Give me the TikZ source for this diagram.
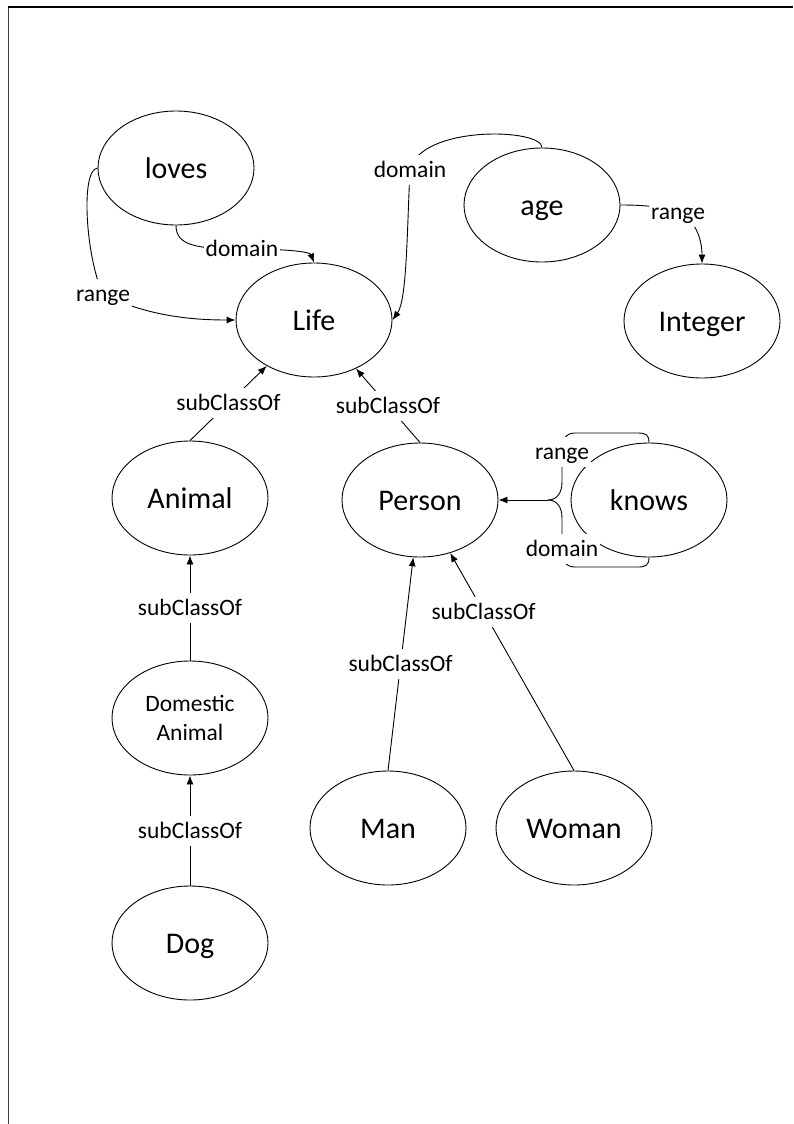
\documentclass[tikz,border=0pt]{standalone}
\usepackage{fontspec}
\setmainfont{Carlito}
\usetikzlibrary{shapes.geometric,arrows.meta}
\begin{document}
\begin{tikzpicture}[x=1pt,y=-1pt,
  ell/.style={ellipse,draw,line width=0.9pt,minimum width=156pt,minimum height=114pt,inner sep=0pt},
  cls/.style={ell,font=\fontsize{30}{36}\selectfont,text height=20pt,text depth=0pt},
  cls2/.style={ell,font=\fontsize{23.5}{28.5}\selectfont,align=center},
  lbl/.style={fill=white,inner xsep=2pt,inner ysep=7.5pt,text height=15pt,text depth=0pt,font=\fontsize{23.5}{28}\selectfont},
  link/.style={line width=0.9pt},
  arr/.style={link,-{Latex[length=9pt,width=7pt]}}]
\path[use as bounding box] (0,0) rectangle (793,1124);
% page frame
\draw[line width=1.8pt,black!75] (8.5,1124) -- (8.5,7);
\draw[line width=1.5pt] (7.6,7) -- (793,7);

% classes and properties
\node[cls] (loves)   at (176,168) {loves};
\node[cls] (life)    at (314,320) {Life};
\node[cls] (age)     at (542,205) {age};
\node[cls] (integer) at (702,321) {Integer};
\node[cls] (animal)  at (190,498) {Animal};
\node[cls] (person)  at (420,500) {Person};
\node[cls] (knows)   at (649,500) {knows};
\node[cls2] (domestic) at (190,718) {Domestic\\Animal};
\node[cls] (dog)     at (190,943) {Dog};
\node[cls] (man)     at (388,828) {Man};
\node[cls] (woman)   at (574,828) {Woman};

% loves: domain and range
\draw[arr] (loves.south) .. controls (176,245) and (195,249) .. (242,249)
  node[lbl] (lovesdom) {domain}
  .. controls (290,249) and (310,252) .. (life.north);
\draw[arr] (loves.west) .. controls (80,170) and (86,258) .. (103,294)
  node[lbl] (lovesrng) {range}
  .. controls (150,318) and (200,320) .. (life.west);

% age: domain and range
\draw[arr] (age.north) .. controls (542,128) and (420,125) .. (410,170)
  node[lbl] (agedom) {domain}
  .. controls (407,230) and (407,300) .. (life.east);
\draw[arr] (age.east) .. controls (640,205) and (660,206) .. (678,212)
  node[lbl] (agerng) {range}
  .. controls (696,220) and (702,240) .. (integer.north);

% knows: range and domain joined into one arrow
\coordinate (kj) at (548,500);
\draw[link] (knows.north) .. controls (649,435) and (646,433) .. (638,433)
  -- (575,433) .. controls (565,433) and (562,440) .. (562,452)
  node[lbl] (knowsrng) {range}
  -- (562,482) .. controls (562,494) and (556,500) .. (kj);
\draw[link] (knows.south) .. controls (649,565) and (646,567) .. (638,567)
  -- (575,567) .. controls (565,567) and (562,560) .. (562,549)
  node[lbl] (knowsdom) {domain}
  -- (562,518) .. controls (562,506) and (556,500) .. (kj);
\draw[arr] (kj) -- (person.east);

% class hierarchy
\draw[arr] (animal.north) -- node[lbl] {subClassOf} (life);
\draw[arr] (person.north) -- node[lbl] {subClassOf} (life);
\draw[arr] (domestic) -- node[lbl] {subClassOf} (animal);
\draw[arr] (dog) -- node[lbl] {subClassOf} (domestic);
\draw[arr] (man.north) -- node[lbl] {subClassOf} (person);
\draw[arr] (woman.north) -- node[lbl,pos=0.73] {subClassOf} (person);
\end{tikzpicture}
\end{document}
